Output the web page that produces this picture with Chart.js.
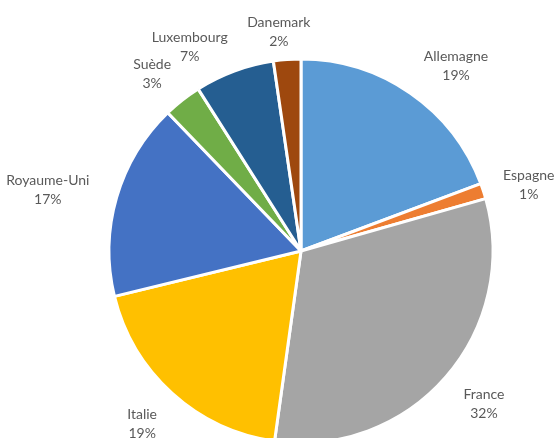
<!DOCTYPE html>
<html>
<head>
<meta charset="utf-8">
<script src="https://cdn.jsdelivr.net/npm/chart.js@4"></script>
<style>
  html, body { margin: 0; padding: 0; background: #fff; overflow: hidden; }
  #wrap { width: 556px; height: 438px; overflow: hidden; }
</style>
</head>
<body>
<div id="wrap"><canvas id="pieChart" width="556" height="470"></canvas></div>
<script>
const countries = ['Allemagne', 'Espagne', 'France', 'Italie', 'Royaume-Uni', 'Suède', 'Luxembourg', 'Danemark'];
const shares = [19.3, 1.3, 31.6, 19.0, 16.6, 3.2, 6.7, 2.3];
const sliceColors = ['#5b9bd5', '#ed7d31', '#a5a5a5', '#ffc000', '#4472c4', '#70ad47', '#255e91', '#9e480e'];

const LABEL_FONT = '14px Lato, "Open Sans", sans-serif';
// small hand nudges (degrees, px) where the labels were pushed apart in the original
const labelNudge = [[2, 5], [0, -8], [0, 0], [0, 0], [0, 0], [0, 0], [-5, 0], [-1, -6]];

// outside labels, placed just past the arc edge along each slice's mid angle
const outsideLabels = {
  id: 'outsideLabels',
  afterDatasetsDraw(chart) {
    const { ctx } = chart;
    const meta = chart.getDatasetMeta(0);
    const total = shares.reduce((a, b) => a + b, 0);
    ctx.save();
    ctx.font = LABEL_FONT;
    ctx.fillStyle = '#595959';
    ctx.textAlign = 'center';
    ctx.textBaseline = 'middle';
    meta.data.forEach((arc, i) => {
      const p = arc.getProps(['x', 'y', 'startAngle', 'endAngle', 'outerRadius'], true);
      const mid = (p.startAngle + p.endAngle) / 2 + labelNudge[i][0] * Math.PI / 180;
      const dx = Math.cos(mid), dy = Math.sin(mid);
      const pct = Math.round(shares[i] / total * 100) + '%';
      const w = Math.max(ctx.measureText(countries[i]).width, ctx.measureText(pct).width);
      const dist = p.outerRadius + 30 + labelNudge[i][1];
      const cx = p.x + dx * dist + dx * w / 2;
      const cy = p.y + dy * dist + dy * 7 + 3;
      ctx.fillText(countries[i], cx, cy - 9.5);
      ctx.fillText(pct, cx, cy + 9.5);
    });
    ctx.restore();
  }
};

new Chart(document.getElementById('pieChart'), {
  type: 'pie',
  data: {
    labels: countries,
    datasets: [{
      data: shares,
      backgroundColor: sliceColors,
      borderColor: '#ffffff',
      borderWidth: 3,
      hoverBorderWidth: 3,
      hoverOffset: 0
    }]
  },
  options: {
    responsive: false,
    animation: false,
    events: [],
    layout: { padding: { left: 107.5, right: 61.5, top: 57.5, bottom: 25.5 } },
    plugins: {
      legend: { display: false },
      tooltip: { enabled: false }
    }
  },
  plugins: [outsideLabels]
});
</script>
</body>
</html>
